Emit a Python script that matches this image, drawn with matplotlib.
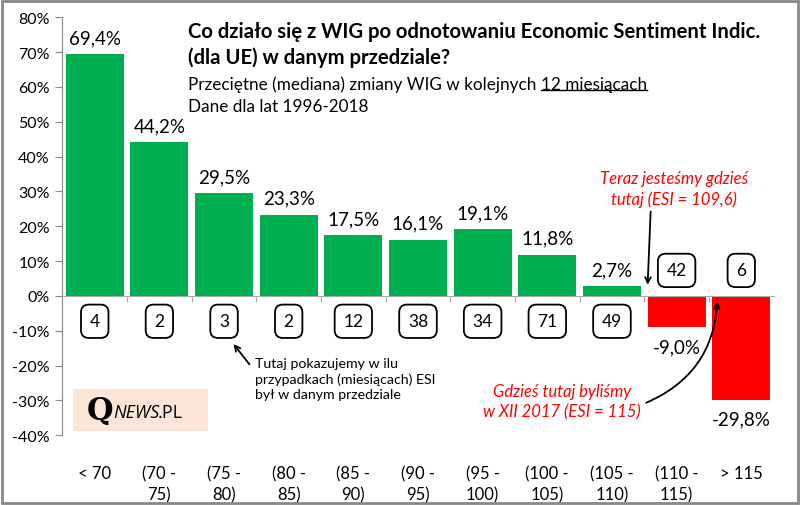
import matplotlib
matplotlib.use('Agg')
import matplotlib.pyplot as plt
from matplotlib.patches import Rectangle
import matplotlib.transforms as mtransforms

plt.rcParams['font.family'] = ['Lato', 'DejaVu Sans']

categories = ['< 70', '(70 -\n75)', '(75 -\n80)', '(80 -\n85)', '(85 -\n90)', '(90 -\n95)',
              '(95 -\n100)', '(100 -\n105)', '(105 -\n110)', '(110 -\n115)', '> 115']
values = [69.4, 44.2, 29.5, 23.3, 17.5, 16.1, 19.1, 11.8, 2.7, -9.0, -29.8]
counts = [4, 2, 3, 2, 12, 38, 34, 71, 49, 42, 6]
value_labels = ['69,4%', '44,2%', '29,5%', '23,3%', '17,5%', '16,1%', '19,1%', '11,8%', '2,7%', '-9,0%', '-29,8%']

green = '#00B050'
red = '#FF0000'

fig = plt.figure(figsize=(8, 5.06), dpi=100)
ax = fig.add_axes([0.078, 0.138, 0.889, 0.826])

x = list(range(len(values)))
colors = [green if v >= 0 else red for v in values]
ax.bar(x, values, width=0.9, color=colors, zorder=2)

ax.set_xlim(-0.5, len(values) - 0.5)
ax.set_ylim(-40, 80)
ax.set_yticks(range(-40, 81, 10))
ax.set_yticklabels([f'{t}%' for t in range(-40, 81, 10)], fontsize=11.5)
ax.tick_params(axis='y', length=5, color='#888888', pad=4)

for s in ['top', 'right']:
    ax.spines[s].set_visible(False)
ax.spines['left'].set_color('#888888')
ax.spines['bottom'].set_position(('data', 0))
ax.spines['bottom'].set_color('#aaaaaa')
ax.set_xticks([i - 0.5 for i in range(1, len(values))])
ax.set_xticklabels([])
ax.tick_params(axis='x', length=4, color='#aaaaaa', direction='out')

trans = mtransforms.blended_transform_factory(ax.transData, ax.transAxes)
for i, c in enumerate(categories):
    ax.text(i, -0.072, c, transform=trans, ha='center', va='top', fontsize=12, linespacing=1.35)

for i, v in enumerate(values):
    if v >= 0:
        ax.text(i, v + 2.3, value_labels[i], ha='center', va='bottom', fontsize=13.5)
        ax.text(i, -7.3, str(counts[i]), ha='center', va='center', fontsize=12.5,
                bbox=dict(boxstyle='round,pad=0.5,rounding_size=0.45', fc='white', ec='black', lw=1.3))
    else:
        ax.text(i, v - 3.2, value_labels[i], ha='center', va='top', fontsize=13.5)
        ax.text(i, 7.3, str(counts[i]), ha='center', va='center', fontsize=12.5,
                bbox=dict(boxstyle='round,pad=0.5,rounding_size=0.45', fc='white', ec='black', lw=1.3))

# titles
fig.text(0.235, 0.937, 'Co działo się z WIG po odnotowaniu Economic Sentiment Indic.',
         fontsize=14.6, fontweight='bold', va='center')
fig.text(0.235, 0.885, '(dla UE) w danym przedziale?', fontsize=14.6, fontweight='bold', va='center')
t1 = fig.text(0.235, 0.832, 'Przeciętne (mediana) zmiany WIG w kolejnych ', fontsize=12.3, va='center')
fig.text(0.235, 0.789, 'Dane dla lat 1996-2018', fontsize=12.3, va='center')
fig.canvas.draw()
r = fig.canvas.get_renderer()
bb = t1.get_window_extent(r).transformed(fig.transFigure.inverted())
t2 = fig.text(bb.x1, 0.832, '12 miesiącach', fontsize=12.3, va='center')
fig.canvas.draw()
bb2 = t2.get_window_extent(r).transformed(fig.transFigure.inverted())
fig.add_artist(plt.Line2D([bb2.x0, bb2.x1], [bb2.y0 + 0.004, bb2.y0 + 0.004],
                          transform=fig.transFigure, color='black', lw=1.0))

# annotations
ax.annotate('', xy=(2.12, -13.2), xytext=(2.42, -20.3),
            arrowprops=dict(arrowstyle='->', color='black', lw=1.3))
ax.text(2.48, -17.6, 'Tutaj pokazujemy w ilu\nprzypadkach (miesiącach) ESI\nbył w danym przedziale',
        fontsize=10.2, va='top', ha='left', linespacing=1.3)

ax.text(8.96, 30.8, 'Teraz jesteśmy gdzieś\ntutaj (ESI = 109,6)', color=red, style='italic',
        fontsize=12, ha='center', va='center', linespacing=1.3)
ax.annotate('', xy=(8.55, 2.4), xytext=(8.6, 25.0),
            arrowprops=dict(arrowstyle='->', color='black', lw=1.3))

ax.text(7.23, -30.2, 'Gdzieś tutaj byliśmy\nw XII 2017 (ESI = 115)', color=red, style='italic',
        fontsize=12, ha='center', va='center', linespacing=1.3)
ax.annotate('', xy=(9.63, -0.8), xytext=(8.49, -31.0),
            arrowprops=dict(arrowstyle='->', color='black', lw=1.3,
                            connectionstyle='arc3,rad=0.32'))

# logo
logo = Rectangle((0.091, 0.146), 0.169, 0.083, transform=fig.transFigure, fc='#FBE5D6', ec='none')
fig.add_artist(logo)
fig.text(0.108, 0.186, 'Q', fontsize=22, family='DejaVu Serif', fontweight='bold', va='center')
tn = fig.text(0.141, 0.183, 'NEWS', fontsize=13, family='Open Sans', style='italic', va='center')
fig.canvas.draw()
bbn = tn.get_window_extent(r).transformed(fig.transFigure.inverted())
fig.text(bbn.x1 - 0.002, 0.183, '.PL', fontsize=13, family='Open Sans', va='center')

border = Rectangle((0.002, 0.003), 0.996, 0.994, transform=fig.transFigure, fill=False,
                   ec='#888888', lw=2)
fig.add_artist(border)

fig.savefig('out.png', dpi=100)
